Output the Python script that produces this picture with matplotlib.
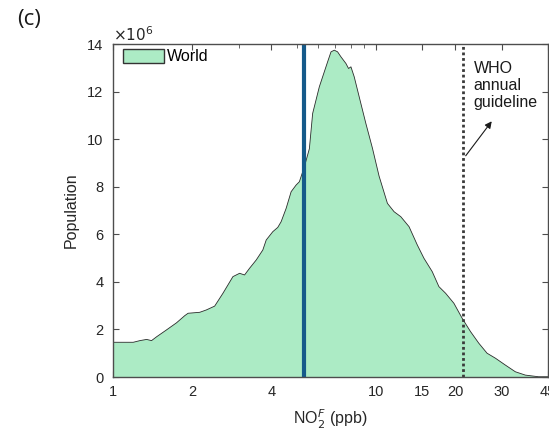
import matplotlib
matplotlib.use("Agg")
import matplotlib.pyplot as plt
from matplotlib.ticker import FixedLocator, FixedFormatter, NullFormatter

# NO2 concentration (ppb) and population (millions)
no2_ppb = [1.0, 1.194, 1.266, 1.342, 1.401, 1.464, 1.597, 1.744, 1.874, 1.929,
           2.136, 2.264, 2.434, 2.617, 2.856, 3.028, 3.162, 3.303, 3.502, 3.710,
           3.822, 4.049, 4.229, 4.355, 4.550, 4.753, 4.964, 5.109, 5.337, 5.576,
           5.738, 6.083, 6.262, 6.541, 6.738, 6.935, 7.137, 7.351, 7.679, 7.856,
           8.022, 8.256, 8.623, 9.141, 9.683, 10.26, 11.04, 11.70, 12.41, 13.34,
           14.34, 15.20, 16.34, 17.32, 18.37, 19.75, 21.23, 22.84, 24.56, 26.40,
           28.41, 31.00, 33.82, 36.90, 41.45, 45.0]
pop_millions = [1.46, 1.46, 1.53, 1.58, 1.53, 1.69, 1.98, 2.28, 2.58, 2.68,
                2.72, 2.82, 2.98, 3.52, 4.22, 4.36, 4.29, 4.57, 4.92, 5.34,
                5.76, 6.11, 6.29, 6.53, 7.09, 7.79, 8.07, 8.21, 8.84, 9.60,
                11.08, 12.20, 12.62, 13.25, 13.67, 13.74, 13.67, 13.46, 13.18, 12.97,
                13.04, 12.62, 11.78, 10.66, 9.62, 8.45, 7.30, 6.95, 6.74, 6.32,
                5.55, 4.99, 4.43, 3.80, 3.52, 3.10, 2.47, 1.91, 1.42, 1.00,
                0.79, 0.50, 0.22, 0.08, 0.01, 0.01]

world_mean = 5.3       # ppb, blue line
who_guideline = 21.3   # ppb, dotted line

xticks = [1, 2, 4, 10, 15, 20, 30, 45]
xticklabels = ["1", "2", "4", "10", "15", "20", "30", "45"]
xminor = [3, 5, 6, 7, 8, 9]
yticks = [0, 2, 4, 6, 8, 10, 12, 14]

plt.rcParams['font.family'] = ['Liberation Sans', 'DejaVu Sans']

fig = plt.figure(figsize=(5.49, 4.36), dpi=100)
ax = fig.add_axes([113/549, 59/436, 435/549, 333/436])

fill_color = '#acebc5'
ax.fill_between(no2_ppb, 0, pop_millions, facecolor=fill_color, edgecolor='none',
                label='World', zorder=2)
ax.plot(no2_ppb, pop_millions, color='#2b2b2b', lw=0.6, zorder=3)

ax.axvline(world_mean, color='#155a8a', lw=3.0, zorder=4, ymin=0.005, ymax=1.0)
ax.axvline(who_guideline, color='#3a3a3a', lw=2.0, linestyle=(0, (1, 1)), zorder=4)

ax.set_xscale('log')
ax.set_xlim(1, 45)
ax.set_ylim(0, 14)
ax.xaxis.set_major_locator(FixedLocator(xticks))
ax.xaxis.set_major_formatter(FixedFormatter(xticklabels))
ax.xaxis.set_minor_locator(FixedLocator(xminor))
ax.xaxis.set_minor_formatter(NullFormatter())
ax.set_yticks(yticks)
ax.set_yticklabels([str(v) for v in yticks])

for s in ax.spines.values():
    s.set_color('#4d4d4d')
    s.set_linewidth(1.0)
    s.set_zorder(5)
ax.tick_params(which='both', direction='in', top=True, right=True,
               colors='#4d4d4d', labelcolor='#262626', labelsize=10.5)
ax.tick_params(which='major', length=4)
ax.tick_params(which='minor', length=3)
ax.tick_params(axis='y', pad=7)
ax.tick_params(axis='x', pad=6)

ax.set_ylabel('Population', fontsize=11.5, color='#262626', labelpad=6)
ax.set_xlabel('NO$_2^F$ (ppb)', fontsize=11.5, color='#262626', labelpad=6)

ax.text(0.0, 1.0, r'$\times10^6$', transform=ax.transAxes, fontsize=11,
        color='#262626', ha='left', va='bottom')

leg = ax.legend(loc='upper left', bbox_to_anchor=(0.022, 0.985), frameon=False,
                borderaxespad=0, borderpad=0, handlelength=2.6, handleheight=0.95,
                handletextpad=0.2, fontsize=11.5)
for h in leg.legend_handles:
    h.set_edgecolor('#333333')
    h.set_linewidth(1.0)

ax.text(23.5, 13.3, 'WHO\nannual\nguideline', fontsize=11.5, color='#1a1a1a',
        ha='left', va='top', linespacing=1.2)
ax.annotate('', xy=(27.5, 10.75), xytext=(21.9, 9.3),
            arrowprops=dict(arrowstyle='-|>', color='#1a1a1a', lw=0.8,
                            mutation_scale=10, shrinkA=0, shrinkB=0))

fig.text(17/549, 1 - 20/436, '(c)', fontsize=16, family=['Open Sans', 'DejaVu Sans'],
         ha='left', va='center', color='#1a1a1a')

fig.savefig('out.png', dpi=100)
